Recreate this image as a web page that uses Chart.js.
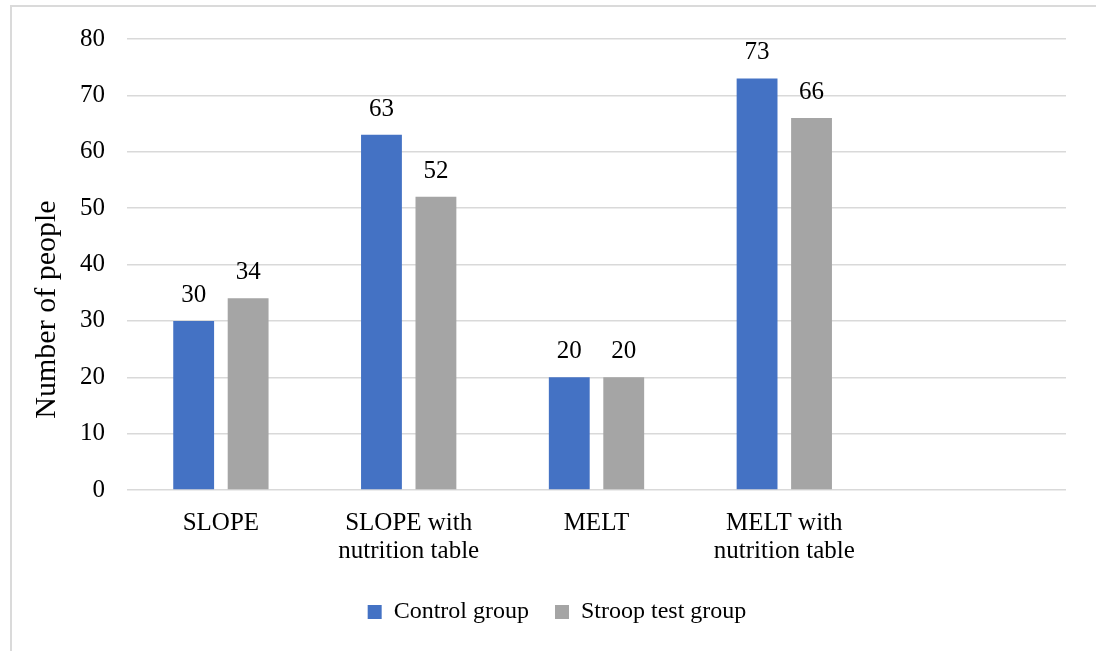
<!DOCTYPE html>
<html>
<head>
<meta charset="utf-8">
<script src="https://cdn.jsdelivr.net/npm/chart.js@4.4.1/dist/chart.umd.min.js"></script>
<style>
  html, body { margin: 0; padding: 0; background: #ffffff; }
  #wrap { position: relative; width: 1096px; height: 651px; }
  #frame {
    position: absolute; left: 10px; top: 5px; right: 0; bottom: 0;
    border-left: 2px solid #dadada; border-top: 2px solid #dadada;
    pointer-events: none;
  }
  canvas { position: absolute; left: 0; top: 0; }
</style>
</head>
<body>
<div id="wrap">
  <canvas id="chart"></canvas>
  <div id="frame"></div>
</div>
<script>
// Groups on the x axis (the trailing empty slot keeps the extra space on the right)
const categories = [
  'SLOPE',
  ['SLOPE with', 'nutrition table'],
  'MELT',
  ['MELT with', 'nutrition table'],
  ''
];
const seriesNames = ['Control group', 'Stroop test group'];
const controlGroup = [30, 63, 20, 73, null];
const stroopGroup = [34, 52, 20, 66, null];
const yTicks = [0, 10, 20, 30, 40, 50, 60, 70, 80];

const serif = "'Liberation Serif', 'Times New Roman', serif";

// Writes each bar's value above it
const valueLabels = {
  id: 'valueLabels',
  afterDatasetsDraw(chart) {
    const ctx = chart.ctx;
    ctx.save();
    ctx.font = '25px ' + serif;
    ctx.fillStyle = '#000000';
    ctx.textAlign = 'center';
    ctx.textBaseline = 'alphabetic';
    chart.data.datasets.forEach((ds, i) => {
      const meta = chart.getDatasetMeta(i);
      meta.data.forEach((bar, j) => {
        const v = ds.data[j];
        if (v === null || v === undefined) return;
        ctx.fillText(String(v), bar.x, bar.y - 19);
      });
    });
    ctx.restore();
  }
};

new Chart(document.getElementById('chart'), {
  type: 'bar',
  data: {
    labels: categories,
    datasets: [
      {
        label: seriesNames[0],
        data: controlGroup,
        backgroundColor: '#4472C4',
        categoryPercentage: 0.58,
        barPercentage: 0.75
      },
      {
        label: seriesNames[1],
        data: stroopGroup,
        backgroundColor: '#A5A5A5',
        categoryPercentage: 0.58,
        barPercentage: 0.75
      }
    ]
  },
  options: {
    responsive: true,
    maintainAspectRatio: false,
    animation: false,
    layout: { padding: { left: 48, right: 30, top: 39, bottom: 17 } },
    plugins: {
      tooltip: { enabled: false },
      legend: {
        position: 'bottom',
        labels: {
          font: { family: serif, size: 24 },
          color: '#000000',
          boxWidth: 14,
          boxHeight: 14,
          padding: 26
        }
      }
    },
    scales: {
      x: {
        grid: { display: false, drawTicks: false },
        border: { display: false },
        ticks: {
          font: { family: serif, size: 25, lineHeight: 1.12 },
          color: '#000000',
          padding: 19,
          maxRotation: 0,
          autoSkip: false
        },
        afterFit(axis) { axis.height = 84; }
      },
      y: {
        min: 0,
        max: 80,
        afterBuildTicks(axis) { axis.ticks = yTicks.map(v => ({ value: v })); },
        grid: { color: '#d9d9d9', lineWidth: 1.5, drawTicks: false },
        border: { display: false },
        ticks: {
          font: { family: serif, size: 25 },
          color: '#000000',
          padding: 22
        },
        title: {
          display: true,
          // trailing spaces push the visible words toward the lower half
          text: 'Number of people            ',
          font: { family: serif, size: 30 },
          color: '#000000',
          padding: { top: -19, bottom: 0 }
        },
        afterFit(axis) { axis.width = 79; }
      }
    }
  },
  plugins: [valueLabels]
});
</script>
</body>
</html>
